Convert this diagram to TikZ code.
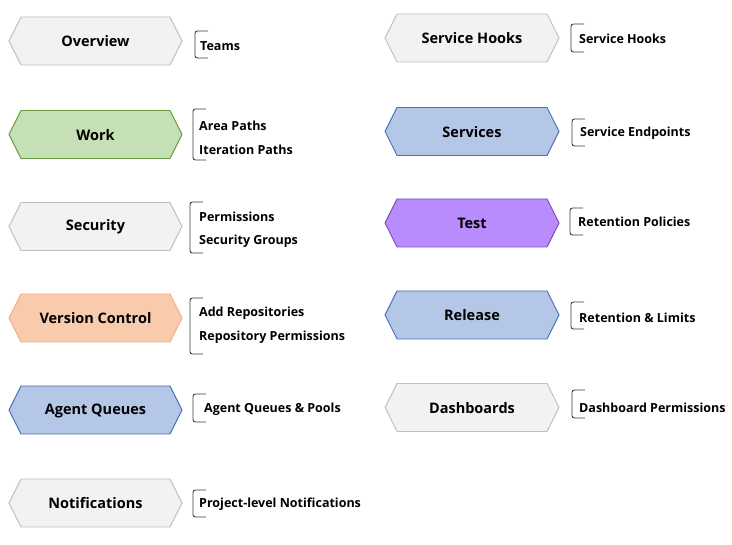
\documentclass[tikz,border=0pt]{standalone}
\usepackage{fontspec}
\setmainfont{Open Sans}[BoldFont={Open Sans Bold}]
\definecolor{grayfill}{HTML}{F2F2F2}
\definecolor{graydraw}{HTML}{BFBFBF}
\definecolor{greenfill}{HTML}{C5E0B4}
\definecolor{greendraw}{HTML}{6A9A3F}
\definecolor{orangefill}{HTML}{F8CBAD}
\definecolor{orangedraw}{HTML}{F4B183}
\definecolor{bluefill}{HTML}{B4C7E7}
\definecolor{bluedraw}{HTML}{4A6FB8}
\definecolor{purplefill}{HTML}{B98CFD}
\definecolor{purpledraw}{HTML}{7A48C0}
\definecolor{brkcol}{HTML}{3A3A3A}
\tikzset{
  hexgray/.style={fill=grayfill,draw=graydraw,line width=0.9pt},
  hexgreen/.style={fill=greenfill,draw=greendraw,line width=0.9pt},
  hexorange/.style={fill=orangefill,draw=orangedraw,line width=0.9pt},
  hexblue/.style={fill=bluefill,draw=bluedraw,line width=0.9pt},
  hexpurple/.style={fill=purplefill,draw=purpledraw,line width=0.9pt},
  hextext/.style={font=\fontsize{14.5}{17}\selectfont\bfseries,inner sep=0pt},
  subtext/.style={font=\fontsize{12.5}{14}\selectfont\bfseries,anchor=west,inner sep=0pt},
  brk/.style={draw=brkcol,line width=0.9pt,rounded corners=2.5pt}
}
% #1 name, #2 cx, #3 cy, #4 half width, #5 style, #6 text
\newcommand{\hexa}[6]{%
  \draw[#5] (#2-#4,#3) -- (#2-#4+12,#3-24) -- (#2+#4-12,#3-24) -- (#2+#4,#3)
    -- (#2+#4-12,#3+24) -- (#2-#4+12,#3+24) -- cycle;
  \node[hextext] (#1) at (#2,#3+0.5) {#6};}
% #1 name, #2 x, #3 ytop, #4 ybottom
\newcommand{\mybrk}[4]{%
  \coordinate (#1t) at (#2+13,#3);
  \coordinate (#1b) at (#2+13,#4);
  \draw[brk] (#1t) -- (#2,#3) -- (#2,#4) -- (#1b);}
\begin{document}
\begin{tikzpicture}[x=1pt,y=-1pt]
\useasboundingbox (0,0) rectangle (732,545);
% left column
\hexa{overview}{95.5}{41}{86.5}{hexgray}{Overview}
\hexa{work}{95.5}{134.5}{86.5}{hexgreen}{Work}
\hexa{security}{95.5}{226.5}{86.5}{hexgray}{Security}
\hexa{vc}{95.5}{318}{86.5}{hexorange}{Version Control}
\hexa{aq}{95.5}{410}{86.5}{hexblue}{Agent Queues}
\hexa{notif}{95.5}{503}{86.5}{hexgray}{Notifications}
% right column
\hexa{sh}{472}{38}{87}{hexgray}{Service Hooks}
\hexa{services}{472}{131.5}{87}{hexblue}{Services}
\hexa{test}{472}{223}{87}{hexpurple}{Test}
\hexa{release}{472}{315}{87}{hexblue}{Release}
\hexa{dash}{472}{407.5}{87}{hexgray}{Dashboards}
% brackets left
\mybrk{b1}{195}{31}{58}
\node[subtext] (t1) at (200,46) {Teams};
\mybrk{b2}{193}{109}{160}
\node[subtext] (t2a) at (199,126) {Area Paths};
\node[subtext] (t2b) at (199,150) {Iteration Paths};
\mybrk{b3}{190}{202}{253}
\node[subtext] (t3a) at (199,217) {Permissions};
\node[subtext] (t3b) at (199,241) {Security Groups};
\mybrk{b4}{190}{298}{354}
\node[subtext] (t4a) at (199,313) {Add Repositories};
\node[subtext] (t4b) at (199,337) {Repository Permissions};
\mybrk{b5}{193}{394}{422}
\node[subtext] (t5) at (204,409) {Agent Queues \& Pools};
\mybrk{b6}{193}{490}{517}
\node[subtext] (t6) at (199,504) {Project-level Notifications};
% brackets right
\mybrk{b7}{571}{24}{52}
\node[subtext] (t7) at (579,39) {Service Hooks};
\mybrk{b8}{572}{119}{146}
\node[subtext] (t8) at (580,133) {Service Endpoints};
\mybrk{b9}{570}{208}{235}
\node[subtext] (t9) at (578,222) {Retention Policies};
\mybrk{b10}{571}{302}{329}
\node[subtext] (t10) at (579,318) {Retention \& Limits};
\mybrk{b11}{572}{390}{418}
\node[subtext] (t11) at (579,408) {Dashboard Permissions};
\end{tikzpicture}
\end{document}
